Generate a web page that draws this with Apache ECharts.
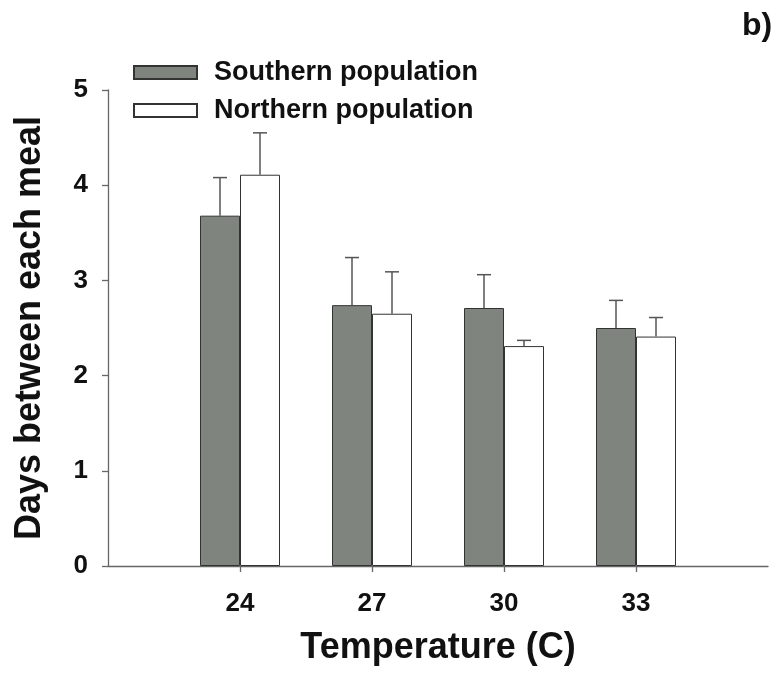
<!DOCTYPE html>
<html>
<head>
<meta charset="utf-8">
<script src="https://cdn.jsdelivr.net/npm/echarts@6/dist/echarts.min.js"></script>
<style>
html,body{margin:0;padding:0;background:#fff;}
#c{width:781px;height:684px;}
</style>
</head>
<body>
<div id="c"></div>
<script>
var categories = ['24', '27', '30', '33'];
var southern = [3.68, 2.74, 2.71, 2.50];
var southernErr = [0.40, 0.50, 0.35, 0.29];
var northern = [4.11, 2.65, 2.31, 2.41];
var northernErr = [0.44, 0.44, 0.06, 0.20];
var yTicks = [0, 1, 2, 3, 4, 5];

var FONT = '"Liberation Sans", Arial, sans-serif';
var axisData = [''].concat(categories).concat(['']);
function padded(arr) { return [null].concat(arr).concat([null]); }

function errData(vals, errs) {
  return vals.map(function (v, i) { return [i + 1, v, v + errs[i]]; });
}
function errRender(offset) {
  return function (params, api) {
    var x = api.value(0);
    var base = api.coord([x, api.value(1)]);
    var top = api.coord([x, api.value(2)]);
    var cx = base[0] + offset;
    var half = 7;
    var st = { stroke: '#555', lineWidth: 1.5 };
    return {
      type: 'group',
      children: [
        { type: 'line', shape: { x1: cx, y1: base[1], x2: cx, y2: top[1] }, style: st },
        { type: 'line', shape: { x1: cx - half, y1: top[1], x2: cx + half, y2: top[1] }, style: st }
      ]
    };
  };
}

var chart = echarts.init(document.getElementById('c'));
chart.setOption({
  animation: false,
  backgroundColor: '#fff',
  grid: { left: 108, right: 13, top: 90, bottom: 118 },
  graphic: [
    { type: 'text', left: 742, top: 10, style: { text: 'b)', font: 'bold 32px ' + FONT, fill: '#111' } }
  ],
  legend: {
    orient: 'vertical',
    left: 128,
    top: 54,
    itemWidth: 63,
    itemHeight: 13,
    itemGap: 11,
    icon: 'rect',
    textStyle: { fontFamily: FONT, fontWeight: 'bold', fontSize: 27, color: '#111', padding: [0, 0, 0, 12], lineHeight: 27 },
    data: ['Southern population', 'Northern population']
  },
  xAxis: {
    type: 'category',
    data: axisData,
    boundaryGap: false,
    name: 'Temperature (C)',
    nameLocation: 'middle',
    nameGap: 64,
    nameTextStyle: { fontFamily: FONT, fontWeight: 'bold', fontSize: 36, color: '#111' },
    axisLine: { lineStyle: { color: '#666', width: 1.3 } },
    axisTick: { show: true, length: 6, lineStyle: { color: '#666', width: 1.3 },
      interval: function (i, v) { return v !== ''; } },
    axisLabel: { fontFamily: FONT, fontWeight: 'bold', fontSize: 26, color: '#111', margin: 25,
      interval: function (i, v) { return v !== ''; } },
    splitLine: { show: false }
  },
  yAxis: {
    type: 'value',
    min: yTicks[0],
    max: yTicks[yTicks.length - 1],
    interval: 1,
    name: 'Days between each meal',
    nameLocation: 'middle',
    nameGap: 60,
    nameRotate: 90,
    nameTextStyle: { fontFamily: FONT, fontWeight: 'bold', fontSize: 36, color: '#111' },
    axisLine: { show: true, lineStyle: { color: '#666', width: 1.3 } },
    axisTick: { show: true, inside: false, length: 6, lineStyle: { color: '#666', width: 1.3 } },
    axisLabel: { fontFamily: FONT, fontWeight: 'bold', fontSize: 26, color: '#111', margin: 20 },
    splitLine: { show: false }
  },
  series: [
    {
      name: 'Southern population',
      type: 'bar',
      data: padded(southern),
      barWidth: 40,
      barGap: '0%',
      itemStyle: { color: '#7f847f', borderColor: '#333', borderWidth: 1 }
    },
    {
      name: 'Northern population',
      type: 'bar',
      data: padded(northern),
      barWidth: 40,
      barGap: '0%',
      itemStyle: { color: '#ffffff', borderColor: '#333', borderWidth: 1 }
    },
    {
      type: 'custom',
      renderItem: errRender(-20),
      data: errData(southern, southernErr),
      encode: { x: 0, y: [1, 2] },
      z: 3
    },
    {
      type: 'custom',
      renderItem: errRender(20),
      data: errData(northern, northernErr),
      encode: { x: 0, y: [1, 2] },
      z: 3
    }
  ]
});
</script>
</body>
</html>
